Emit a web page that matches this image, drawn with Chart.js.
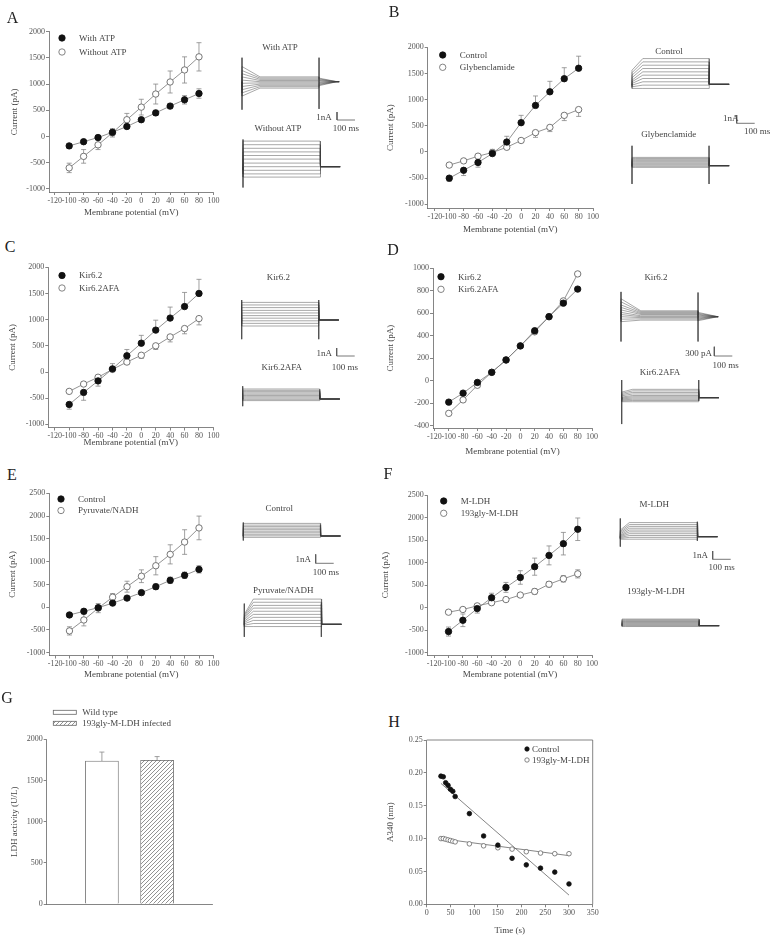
<!DOCTYPE html>
<html>
<head>
<meta charset="utf-8">
<script src="https://cdn.jsdelivr.net/npm/chart.js@4.4.0/dist/chart.umd.min.js"></script>
<style>
  body { margin: 0; background: #fff; width: 772px; height: 936px; position: relative; overflow: hidden;
         font-family: "Liberation Serif", "Times New Roman", serif; color: #444; }
  canvas { position: absolute; }
  .t { position: absolute; white-space: nowrap; transform: translate(-50%, -50%); font-size: 9px; line-height: 1; }
  .p { position: absolute; white-space: nowrap; transform: translate(-50%, -50%); font-size: 16px; line-height: 1; color: #222; }
</style>
</head>
<body>
<script>
// ---- I-V curves (pA) ----
const IV_X = [-100, -80, -60, -40, -20, 0, 20, 40, 60, 80];
const IV_X_TICKS = [-120, -100, -80, -60, -40, -20, 0, 20, 40, 60, 80, 100];
const Y_TICKS_2000 = [-1000, -500, 0, 500, 1000, 1500, 2000];
const Y_TICKS_2500 = [-1000, -500, 0, 500, 1000, 1500, 2000, 2500];
const Y_TICKS_D = [-400, -200, 0, 200, 400, 600, 800, 1000];

const A_WITH_ATP = [-180, -100, -20, 80, 190, 320, 450, 580, 700, 820];
const A_WITH_ATP_ERR = [40, 30, 30, 40, 40, 40, 50, 50, 80, 90];
const A_WITHOUT_ATP = [-600, -380, -160, 70, 320, 560, 810, 1040, 1270, 1520];
const A_WITHOUT_ATP_ERR = [90, 130, 90, 80, 120, 150, 190, 210, 250, 270];

// signed errors: + drawn upward, - drawn downward
const B_CONTROL = [-500, -350, -200, -30, 190, 560, 890, 1150, 1400, 1600];
const B_CONTROL_ERR = [-60, -100, -90, -40, 110, 140, 180, 200, 210, 230];
const B_GLYB = [-250, -170, -80, -10, 90, 220, 370, 470, 700, 810];
const B_GLYB_ERR = [-20, -20, -20, 60, -40, -40, -90, -80, -100, -130];

const C_KIR = [-620, -390, -170, 60, 310, 550, 800, 1030, 1250, 1500];
const C_KIR_ERR = [-90, -150, -100, 100, 120, 150, 190, 210, 270, 270];
const C_AFA = [-370, -230, -100, 50, 190, 320, 500, 670, 830, 1020];
const C_AFA_ERR = [-20, -20, -20, -20, -40, -60, -70, -95, -100, -120];

const D_KIR = [-190, -110, -15, 75, 185, 310, 445, 570, 690, 815];
const D_AFA = [-290, -170, -40, 75, 185, 310, 435, 570, 710, 950];

const E_CONTROL = [-170, -90, -10, 90, 200, 320, 450, 590, 700, 830];
const E_CONTROL_ERR = [40, 40, 40, 40, 40, 50, 60, 70, 70, 80];
const E_PYR = [-520, -280, -20, 220, 450, 680, 910, 1160, 1430, 1740];
const E_PYR_ERR = [90, 130, 100, 80, 120, 140, 200, 210, 270, 260];

const F_MLDH = [-530, -280, -20, 220, 450, 670, 910, 1160, 1420, 1740];
const F_MLDH_ERR = [100, 140, 100, 100, 110, 150, 190, 210, 250, 250];
const F_193 = [-100, -40, 40, 110, 180, 280, 360, 520, 640, 750];
const F_193_ERR = [20, 20, 20, 20, 30, 40, 60, 60, 70, 90];

// ---- G: LDH activity ----
const G_LABELS = ['Wild type', '193gly-M-LDH infected'];
const G_VALUES = [1735, 1745];
const G_ERR = [110, 45];
const G_TICKS = [0, 500, 1000, 1500, 2000];

// ---- H: A340 time course ----
const H_TIME = [30, 35, 40, 45, 50, 55, 60, 90, 120, 150, 180, 210, 240, 270, 300];
const H_CONTROL = [0.195, 0.194, 0.185, 0.181, 0.175, 0.172, 0.164, 0.138, 0.104, 0.090, 0.070, 0.060, 0.055, 0.049, 0.031];
const H_MUTANT = [0.100, 0.100, 0.099, 0.098, 0.097, 0.096, 0.095, 0.092, 0.089, 0.086, 0.084, 0.080, 0.078, 0.077, 0.077];
const H_FIT_X = [30, 300];
const H_FIT_CONTROL = [0.184, 0.014];
const H_FIT_MUTANT = [0.100, 0.074];
const H_X_TICKS = [0, 50, 100, 150, 200, 250, 300, 350];
const H_Y_TICKS = [0, 0.05, 0.10, 0.15, 0.20, 0.25];

// ---- current traces (nA, relative to holding) ----
const TRACE_STEP_MS = 428;
const TRACE_END_MS = 540;
const SCALE_BAR_MS = 100;

const A1_ON = [-1.8, -1.4, -1.0, -0.6, -0.2, 0.2, 0.6, 1.0, 1.4, 1.9];
const A1_SS = [-0.8, -0.62, -0.45, -0.3, -0.15, 0, 0.15, 0.3, 0.45, 0.6];
const A1_OFF = [-0.5, -0.4, -0.3, -0.2, -0.1, 0.05, 0.15, 0.25, 0.35, 0.45];
const A2_SS = [-1.3, -0.9, -0.45, 0, 0.45, 0.95, 1.4, 1.85, 2.3, 2.75, 3.2];

const B1_ON = [-0.5, -0.3, -0.1, 0.1, 0.3, 0.5, 0.8, 1.1, 1.4, 1.7];
const B1_SS = [-0.5, -0.1, 0.3, 0.7, 1.1, 1.5, 1.9, 2.3, 2.7, 3.1];
const B2_SS = [-0.2, -0.07, 0.07, 0.2, 0.33, 0.47, 0.6, 0.73, 0.87, 1.0];

const C1_SS = [-0.75, -0.42, -0.1, 0.23, 0.55, 0.88, 1.2, 1.55, 1.88, 2.2];
const C2_SS = [-0.2, -0.04, 0.12, 0.28, 0.44, 0.6, 0.76, 0.92, 1.08, 1.25];

const D1_ON = [-0.16, -0.08, 0, 0.07, 0.14, 0.22, 0.3, 0.38, 0.48, 0.58];
const D1_SS = [-0.11, -0.07, -0.03, 0, 0.03, 0.07, 0.1, 0.13, 0.16, 0.19];
const D1_OFF = [-0.13, -0.1, -0.07, -0.04, -0.01, 0.02, 0.05, 0.08, 0.11, 0.14];
const D2_ON = [-0.13, -0.1, -0.07, -0.04, -0.01, 0.02, 0.06, 0.1, 0.14, 0.18];
const D2_SS = [-0.13, -0.09, -0.05, -0.01, 0.03, 0.07, 0.12, 0.17, 0.22, 0.27];

const E1_SS = [-0.15, 0.02, 0.19, 0.36, 0.53, 0.7, 0.87, 1.04, 1.21, 1.4];
const E2_ON = [-0.25, -0.1, 0.05, 0.2, 0.35, 0.5, 0.65, 0.8, 0.95, 1.1];
const E2_SS = [-0.25, 0.09, 0.43, 0.77, 1.1, 1.45, 1.8, 2.1, 2.45, 2.8];

const F1_ON = [-0.3, -0.2, -0.1, 0, 0.1, 0.2, 0.35, 0.5, 0.65, 0.8];
const F1_SS = [-0.3, -0.08, 0.14, 0.36, 0.58, 0.8, 1.02, 1.24, 1.46, 1.7];
const F2_SS = [-0.1, 0, 0.1, 0.2, 0.3, 0.4, 0.5, 0.6, 0.7, 0.8];

const SERIF = "'Liberation Serif', 'Times New Roman', serif";
const TRACE_PX_PER_MS = 0.18;

Chart.defaults.font.family = SERIF;
Chart.defaults.animation = false;
Chart.defaults.responsive = false;
Chart.defaults.events = [];
Chart.defaults.plugins.legend.display = false;
Chart.defaults.plugins.tooltip.enabled = false;

function makeCanvas(left, top, w, h) {
    const c = document.createElement('canvas');
    c.width = w; c.height = h;
    c.style.left = left + 'px'; c.style.top = top + 'px';
    document.body.appendChild(c);
    return c;
}

function text(str, x, y, cls) {
    const d = document.createElement('div');
    d.className = cls || 't';
    d.textContent = str;
    d.style.left = x + 'px'; d.style.top = y + 'px';
    document.body.appendChild(d);
}

const errorBars = {
    id: 'errorBars',
    beforeDatasetsDraw(chart, args, o) {
        const { ctx } = chart;
        const ys = chart.scales.y;
        chart.data.datasets.forEach((ds, di) => {
            if (!ds.errors) return;
            const meta = chart.getDatasetMeta(di);
            ctx.save();
            ctx.strokeStyle = '#888';
            ctx.lineWidth = 0.8;
            meta.data.forEach((el, i) => {
                const v = ds.data[i].y, e = ds.errors[i];
                const ends = o.signed ? [v + e] : [v + e, v - e];
                ends.forEach(end => {
                    const py = ys.getPixelForValue(end);
                    ctx.beginPath();
                    ctx.moveTo(el.x, el.y); ctx.lineTo(el.x, py);
                    ctx.moveTo(el.x - 2.5, py); ctx.lineTo(el.x + 2.5, py);
                    ctx.stroke();
                });
            });
            ctx.restore();
        });
    }
};

const insideLegend = {
    id: 'insideLegend',
    afterDraw(chart, args, o) {
        if (o.dx === undefined) return;
        const { ctx, chartArea } = chart;
        ctx.save();
        ctx.font = (o.size || 9) + 'px ' + SERIF;
        ctx.textBaseline = 'middle';
        ctx.lineWidth = 0.8;
        let row = 0;
        chart.data.datasets.forEach(ds => {
            if (!ds.label) return;
            const x = chartArea.left + o.dx, y = chartArea.top + o.dy + row * o.rowH;
            if (o.box) {
                ctx.fillStyle = ds.backgroundColor;
                ctx.fillRect(x, y - 2, o.box, 4);
                ctx.strokeStyle = ds.borderColor;
                ctx.strokeRect(x, y - 2, o.box, 4);
            } else {
                ctx.beginPath();
                ctx.arc(x, y, o.r, 0, Math.PI * 2);
                ctx.fillStyle = ds.pointBackgroundColor; ctx.fill();
                ctx.strokeStyle = ds.pointBorderColor; ctx.stroke();
            }
            ctx.fillStyle = '#444';
            ctx.fillText(ds.label, x + o.gap, y + 0.5);
            row++;
        });
        ctx.restore();
    }
};

const frame = {
    id: 'frame',
    afterDraw(chart) {
        const { ctx, chartArea: a } = chart;
        ctx.save();
        ctx.strokeStyle = '#666'; ctx.lineWidth = 0.8;
        ctx.beginPath();
        ctx.moveTo(a.left, a.top); ctx.lineTo(a.right, a.top); ctx.lineTo(a.right, a.bottom);
        ctx.stroke();
        ctx.restore();
    }
};

function axis(min, max, ticks, title, size, fmt) {
    return {
        type: 'linear', min, max,
        afterBuildTicks: s => { s.ticks = ticks.map(v => ({ value: v })); },
        afterFit: s => { if (s.isHorizontal()) s.height = size; else s.width = size; },
        ticks: { display: ticks.length > 0, font: { size: 8 }, color: '#555', padding: 1, autoSkip: false,
                 maxRotation: 0, callback: fmt || (v => String(v)) },
        grid: { display: ticks.length > 0, drawOnChartArea: false, drawTicks: true, tickLength: 3, color: '#666', lineWidth: 0.8 },
        border: { display: true, color: '#666', width: 0.8 },
        title: { display: !!title, text: title, font: { size: 9 }, color: '#444', padding: 0 }
    };
}

function ivChart(box, xMin, yMin, yMax, yTicks, sets, signed, leg) {
    const left = Math.round(box.yt - 6), top = Math.round(box.T - 10);
    const right = Math.round(box.R + 16), bottom = Math.round(box.xt + 7);
    const c = makeCanvas(left, top, right - left, bottom - top);
    new Chart(c, {
        type: 'scatter',
        data: {
            datasets: sets.map(s => ({
                label: s.label,
                data: IV_X.map((x, i) => ({ x, y: s.values[i] })),
                errors: s.errors,
                showLine: true,
                borderColor: '#777',
                borderWidth: 0.8,
                pointRadius: 3.2,
                pointBorderWidth: 0.9,
                pointBackgroundColor: s.filled ? '#111' : '#fff',
                pointBorderColor: s.filled ? '#111' : '#666'
            }))
        },
        options: {
            layout: { padding: { top: box.T - top, right: right - box.R, left: 0, bottom: 0 } },
            scales: {
                x: axis(xMin, 100, IV_X_TICKS, 'Membrane potential (mV)', bottom - box.B),
                y: axis(yMin, yMax, yTicks, 'Current (pA)', box.L - left)
            },
            plugins: { errorBars: { signed }, insideLegend: Object.assign({ r: 3.2, gap: 17 }, leg) }
        },
        plugins: [errorBars, insideLegend]
    });
}

function traceChart(stepX, baseline, pxNA, on, ss, off, settleMs, decayMs, spikeOn, spikeOff) {
    const pxMs = TRACE_PX_PER_MS;
    const left = Math.round(stepX - 5), top = Math.round(baseline - 34);
    const w = Math.ceil(stepX - left + TRACE_END_MS * pxMs + 5), h = 68;
    const xMin = -(stepX - left) / pxMs, yMax = (baseline - top) / pxNA;
    const c = makeCanvas(left, top, w, h);
    const sets = ss.map((s, i) => ({
        data: [
            { x: 0, y: 0 }, { x: 0, y: on[i] }, { x: settleMs, y: s }, { x: TRACE_STEP_MS, y: s },
            { x: TRACE_STEP_MS, y: off ? off[i] : 0 }, { x: TRACE_STEP_MS + decayMs, y: 0 }, { x: TRACE_END_MS, y: 0 }
        ],
        showLine: true, borderColor: 'rgba(60,60,60,0.75)', borderWidth: 0.6, pointRadius: 0
    }));
    [[0, spikeOn], [TRACE_STEP_MS, spikeOff]].forEach(([t, sp]) => {
        if (!sp) return;
        sets.push({ data: [{ x: t, y: sp[0] }, { x: t, y: sp[1] }], showLine: true,
                    borderColor: '#444', borderWidth: 0.7, pointRadius: 0 });
    });
    new Chart(c, {
        type: 'scatter',
        data: { datasets: sets },
        options: {
            layout: { padding: 0 },
            scales: {
                x: { display: false, min: xMin, max: xMin + w / pxMs },
                y: { display: false, min: yMax - h / pxNA, max: yMax }
            }
        }
    });
}

function scaleBar(cx, cy, pxNA, barNA) {
    const pxMs = TRACE_PX_PER_MS;
    const left = Math.round(cx - 3), top = Math.round(cy - barNA * pxNA - 3);
    const w = Math.ceil(cx - left + SCALE_BAR_MS * pxMs + 3), h = Math.ceil(cy - top + 3);
    const xMin = -(cx - left) / pxMs, yMax = (cy - top) / pxNA;
    const c = makeCanvas(left, top, w, h);
    new Chart(c, {
        type: 'scatter',
        data: { datasets: [{ data: [{ x: 0, y: barNA }, { x: 0, y: 0 }, { x: SCALE_BAR_MS, y: 0 }],
                             showLine: true, borderColor: '#555', borderWidth: 0.8, pointRadius: 0 }] },
        options: {
            layout: { padding: 0 },
            scales: {
                x: { display: false, min: xMin, max: xMin + w / pxMs },
                y: { display: false, min: yMax - h / pxNA, max: yMax }
            }
        }
    });
}

// ---------- panel A ----------
ivChart({ L: 49, T: 31.7, R: 213.4, B: 192, xt: 211, yt: 15 }, -128, -1060, 2000, Y_TICKS_2000, [
    { label: 'With ATP', values: A_WITH_ATP, errors: A_WITH_ATP_ERR, filled: true },
    { label: 'Without ATP', values: A_WITHOUT_ATP, errors: A_WITHOUT_ATP_ERR, filled: false }
], false, { dx: 13, dy: 6.3, rowH: 14 });
traceChart(242, 81.7, 8, A1_ON, A1_SS, A1_OFF, 100, 100, [3.0, -3.5], [3.0, -3.4]);
traceChart(243, 166.7, 8, A2_SS, A2_SS, null, 20, 5, [3.4, -2.6], null);
scaleBar(337, 120, 8, 1);
text('With ATP', 280, 47); text('Without ATP', 278, 128);
text('1nA', 324, 116.7); text('100 ms', 346, 127.7);

// ---------- panel B ----------
ivChart({ L: 427.7, T: 47.3, R: 593, B: 208, xt: 228, yt: 391 }, -130, -1070, 2000, Y_TICKS_2000, [
    { label: 'Control', values: B_CONTROL, errors: B_CONTROL_ERR, filled: true },
    { label: 'Glybenclamide', values: B_GLYB, errors: B_GLYB_ERR, filled: false }
], true, { dx: 15, dy: 7.7, rowH: 12.3 });
traceChart(632, 84.3, 8.3, B1_ON, B1_SS, null, 60, 3, null, null);
traceChart(632, 165.7, 8.3, B2_SS, B2_SS, null, 20, 3, [2.4, -2.2], [2.4, -2.2]);
scaleBar(736.7, 123.3, 8.3, 1);
text('Control', 669, 50.7); text('Glybenclamide', 668.7, 134);
text('1nA', 730.8, 118.3); text('100 ms', 757.2, 131);

// ---------- panel C ----------
ivChart({ L: 48.3, T: 267.3, R: 213.4, B: 427.5, xt: 440.7, yt: 13.3 }, -129, -1060, 2000, Y_TICKS_2000, [
    { label: 'Kir6.2', values: C_KIR, errors: C_KIR_ERR, filled: true },
    { label: 'Kir6.2AFA', values: C_AFA, errors: C_AFA_ERR, filled: false }
], true, { dx: 13.7, dy: 8.2, rowH: 12.5 });
traceChart(241.7, 320, 8, C1_SS, C1_SS, null, 20, 3, [2.5, -2.4], [2.5, -2.4]);
traceChart(242.7, 399, 8, C2_SS, C2_SS, null, 20, 3, [1.6, -0.9], null);
scaleBar(336.7, 356, 8, 1);
text('Kir6.2', 278.3, 277.3); text('Kir6.2AFA', 281.7, 366.7);
text('1nA', 324.2, 353.3); text('100 ms', 345, 366.7);

// ---------- panel D ----------
ivChart({ L: 433, T: 268.3, R: 592, B: 428, xt: 450, yt: 391 }, -122, -420, 1000, Y_TICKS_D, [
    { label: 'Kir6.2', values: D_KIR, filled: true },
    { label: 'Kir6.2AFA', values: D_AFA, filled: false }
], false, { dx: 8, dy: 8.4, rowH: 12.6 });
traceChart(621, 316.7, 31, D1_ON, D1_SS, D1_OFF, 110, 110, [0.8, -0.8], [0.78, -0.8]);
traceChart(621.7, 397.7, 31, D2_ON, D2_SS, null, 60, 3, [0.57, -0.85], [0.57, -0.1]);
scaleBar(714.3, 356, 31, 0.3);
text('Kir6.2', 656, 277.3); text('Kir6.2AFA', 660, 372);
text('300 pA', 698.7, 353.3); text('100 ms', 725.7, 365);

// ---------- panel E ----------
ivChart({ L: 49.3, T: 493.3, R: 213.4, B: 655.5, xt: 673.3, yt: 13.3 }, -128, -1060, 2500, Y_TICKS_2500, [
    { label: 'Control', values: E_CONTROL, errors: E_CONTROL_ERR, filled: true },
    { label: 'Pyruvate/NADH', values: E_PYR, errors: E_PYR_ERR, filled: false }
], false, { dx: 11.7, dy: 5.7, rowH: 11.5 });
traceChart(243.3, 536, 9, E1_SS, E1_SS, null, 20, 3, [1.5, -0.5], null);
traceChart(244.3, 624.3, 9, E2_ON, E2_SS, null, 50, 3, [2.3, -1.4], [2.3, -1.4]);
scaleBar(315.7, 563.3, 9, 1);
text('Control', 279.3, 508.3); text('Pyruvate/NADH', 283.3, 590);
text('1nA', 303.3, 559); text('100 ms', 325.8, 571.7);

// ---------- panel F ----------
ivChart({ L: 427.7, T: 495, R: 592.1, B: 655, xt: 673.3, yt: 386 }, -129, -1050, 2500, Y_TICKS_2500, [
    { label: 'M-LDH', values: F_MLDH, errors: F_MLDH_ERR, filled: true },
    { label: '193gly-M-LDH', values: F_193, errors: F_193_ERR, filled: false }
], false, { dx: 16, dy: 6, rowH: 12.3 });
traceChart(620.3, 536.7, 8.3, F1_ON, F1_SS, null, 50, 3, [2.2, -1.2], [1.8, -0.5]);
traceChart(622, 625.7, 8.3, F2_SS, F2_SS, null, 20, 3, null, null);
scaleBar(712.7, 559.3, 8.3, 1);
text('M-LDH', 654.3, 504.3); text('193gly-M-LDH', 656, 591);
text('1nA', 700.3, 555); text('100 ms', 721.7, 567.3);

// ---------- panel G ----------
(function () {
    const p = document.createElement('canvas');
    p.width = 4; p.height = 4;
    const g = p.getContext('2d');
    g.fillStyle = '#fff'; g.fillRect(0, 0, 4, 4);
    g.strokeStyle = '#777'; g.lineWidth = 0.8;
    g.beginPath();
    g.moveTo(0, 4); g.lineTo(4, 0);
    g.moveTo(-1, 1); g.lineTo(1, -1);
    g.moveTo(3, 5); g.lineTo(5, 3);
    g.stroke();
    const hatch = g.createPattern(p, 'repeat');

    const box = { L: 46.7, T: 739.3, R: 212.3, B: 904 };
    const left = 9, top = 700, right = 224, bottom = 910;
    const c = makeCanvas(left, top, right - left, bottom - top);
    new Chart(c, {
        type: 'bar',
        data: {
            datasets: [
                { label: G_LABELS[0], data: [{ x: 1, y: G_VALUES[0] }], errors: [G_ERR[0]],
                  backgroundColor: '#fff', borderColor: '#666', borderWidth: 0.8, barThickness: 33, grouped: false },
                { label: G_LABELS[1], data: [{ x: 2, y: G_VALUES[1] }], errors: [G_ERR[1]],
                  backgroundColor: hatch, borderColor: '#666', borderWidth: 0.8, barThickness: 33, grouped: false }
            ]
        },
        options: {
            layout: { padding: { top: box.T - top, right: right - box.R, left: 0, bottom: 0 } },
            scales: {
                x: axis(0, 3, [], '', bottom - box.B),
                y: axis(0, 2000, G_TICKS, 'LDH activity (U/L)', box.L - left)
            },
            plugins: { errorBars: { signed: true }, insideLegend: { dx: 6.6, dy: -27, rowH: 11, box: 23, gap: 29 } }
        },
        plugins: [errorBars, insideLegend]
    });
})();

// ---------- panel H ----------
(function () {
    const box = { L: 426.7, T: 740, R: 592.7, B: 904.3, xt: 929.3, yt: 391 };
    const left = Math.round(box.yt - 6), top = 730, right = 607, bottom = 936;
    const c = makeCanvas(left, top, right - left, bottom - top);
    const pts = vals => H_TIME.map((t, i) => ({ x: t, y: vals[i] }));
    const fit = vals => H_FIT_X.map((t, i) => ({ x: t, y: vals[i] }));
    new Chart(c, {
        type: 'scatter',
        data: {
            datasets: [
                { label: 'Control', data: pts(H_CONTROL), pointRadius: 2.3, pointBorderWidth: 0.8,
                  pointBackgroundColor: '#111', pointBorderColor: '#111' },
                { label: '193gly-M-LDH', data: pts(H_MUTANT), pointRadius: 2.3, pointBorderWidth: 0.8,
                  pointBackgroundColor: '#fff', pointBorderColor: '#666' },
                { data: fit(H_FIT_CONTROL), showLine: true, pointRadius: 0, borderColor: '#666', borderWidth: 0.8 },
                { data: fit(H_FIT_MUTANT), showLine: true, pointRadius: 0, borderColor: '#666', borderWidth: 0.8 }
            ]
        },
        options: {
            layout: { padding: { top: box.T - top, right: right - box.R, left: 0, bottom: 0 } },
            scales: {
                x: axis(0, 350, H_X_TICKS, 'Time (s)', bottom - box.B),
                y: axis(0, 0.25, H_Y_TICKS, 'A340 (nm)', box.L - left, v => v.toFixed(2))
            },
            plugins: { insideLegend: { dx: 100.3, dy: 9, rowH: 11, r: 2.2, gap: 5 } }
        },
        plugins: [insideLegend, frame]
    });
})();

// panel letters
text('A', 12.5, 17.5, 'p'); text('B', 394, 12, 'p');
text('C', 10, 247, 'p'); text('D', 393, 250, 'p');
text('E', 12, 475, 'p'); text('F', 388, 474, 'p');
text('G', 7, 697.5, 'p'); text('H', 394, 722, 'p');
</script>
</body>
</html>
